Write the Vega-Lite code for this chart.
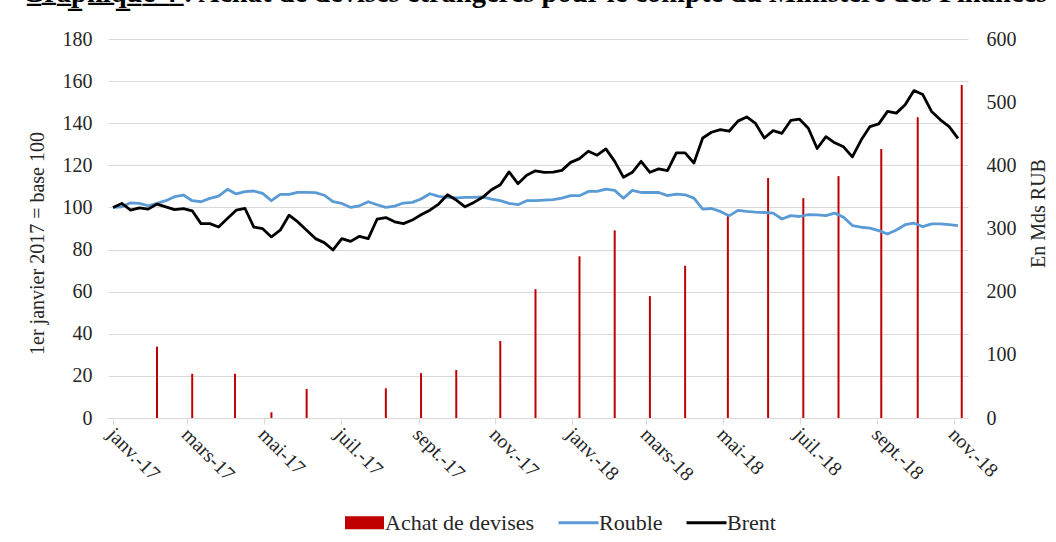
{
  "$schema": "https://vega.github.io/schema/vega-lite/v6.json",
  "width": 860,
  "height": 379,
  "autosize": {"type": "none"},
  "padding": {"left": 108, "top": 39, "right": 88, "bottom": 124},
  "background": "white",
  "config": {
    "font": "Liberation Serif",
    "view": {"stroke": null},
    "axis": {"labelFont": "Liberation Serif", "titleFont": "Liberation Serif", "labelFontSize": 20, "titleFontSize": 20, "labelColor": "#262626", "titleColor": "#262626", "titleFontWeight": "normal"}
  },
  "title": {
    "text": "G\u0332r\u0332a\u0332p\u0332h\u0332i\u0332q\u0332u\u0332e\u0332 \u03324\u0332 : Achat de devises étrangères pour le compte du Ministère des Finances",
    "font": "Liberation Serif", "fontSize": 28.5, "fontWeight": "bold", "color": "#000000",
    "anchor": "start", "frame": "group", "dx": -86, "offset": 22
  },
  "datasets": {
    "bars": [
      {"d": "2017-02-05", "serie": "Achat de devises", "value": 113},
      {"d": "2017-03-05", "serie": "Achat de devises", "value": 70},
      {"d": "2017-04-08", "serie": "Achat de devises", "value": 70},
      {"d": "2017-05-07", "serie": "Achat de devises", "value": 9},
      {"d": "2017-06-04", "serie": "Achat de devises", "value": 46},
      {"d": "2017-08-06", "serie": "Achat de devises", "value": 47},
      {"d": "2017-09-03", "serie": "Achat de devises", "value": 71},
      {"d": "2017-10-01", "serie": "Achat de devises", "value": 76},
      {"d": "2017-11-05", "serie": "Achat de devises", "value": 122},
      {"d": "2017-12-03", "serie": "Achat de devises", "value": 204},
      {"d": "2018-01-07", "serie": "Achat de devises", "value": 256},
      {"d": "2018-02-04", "serie": "Achat de devises", "value": 297},
      {"d": "2018-03-04", "serie": "Achat de devises", "value": 193},
      {"d": "2018-04-01", "serie": "Achat de devises", "value": 241},
      {"d": "2018-05-05", "serie": "Achat de devises", "value": 322},
      {"d": "2018-06-06", "serie": "Achat de devises", "value": 380},
      {"d": "2018-07-04", "serie": "Achat de devises", "value": 348},
      {"d": "2018-08-01", "serie": "Achat de devises", "value": 383},
      {"d": "2018-09-04", "serie": "Achat de devises", "value": 426},
      {"d": "2018-10-03", "serie": "Achat de devises", "value": 476},
      {"d": "2018-11-07", "serie": "Achat de devises", "value": 527}
    ],
    "lines": [
      {"d": "2017-01-01", "Rouble": 100.0, "Brent": 100.0},
      {"d": "2017-01-08", "Rouble": 100.3, "Brent": 101.9},
      {"d": "2017-01-15", "Rouble": 102.2, "Brent": 98.7},
      {"d": "2017-01-22", "Rouble": 101.9, "Brent": 99.8},
      {"d": "2017-01-29", "Rouble": 100.8, "Brent": 99.2},
      {"d": "2017-02-05", "Rouble": 101.9, "Brent": 101.6},
      {"d": "2017-02-12", "Rouble": 103.2, "Brent": 100.3},
      {"d": "2017-02-19", "Rouble": 105.1, "Brent": 99.0},
      {"d": "2017-02-26", "Rouble": 105.9, "Brent": 99.4},
      {"d": "2017-03-05", "Rouble": 103.2, "Brent": 98.4},
      {"d": "2017-03-12", "Rouble": 102.7, "Brent": 92.3},
      {"d": "2017-03-19", "Rouble": 104.3, "Brent": 92.3},
      {"d": "2017-03-26", "Rouble": 105.4, "Brent": 90.7},
      {"d": "2017-04-02", "Rouble": 108.6, "Brent": 94.7},
      {"d": "2017-04-09", "Rouble": 106.4, "Brent": 98.7},
      {"d": "2017-04-16", "Rouble": 107.5, "Brent": 99.5},
      {"d": "2017-04-23", "Rouble": 107.8, "Brent": 90.7},
      {"d": "2017-04-30", "Rouble": 106.7, "Brent": 89.9},
      {"d": "2017-05-07", "Rouble": 103.2, "Brent": 86.0},
      {"d": "2017-05-14", "Rouble": 106.2, "Brent": 89.2},
      {"d": "2017-05-21", "Rouble": 106.2, "Brent": 96.3},
      {"d": "2017-05-28", "Rouble": 107.2, "Brent": 93.1},
      {"d": "2017-06-04", "Rouble": 107.2, "Brent": 89.2},
      {"d": "2017-06-11", "Rouble": 107.0, "Brent": 85.2},
      {"d": "2017-06-18", "Rouble": 105.8, "Brent": 83.3},
      {"d": "2017-06-25", "Rouble": 102.8, "Brent": 79.8},
      {"d": "2017-07-02", "Rouble": 101.9, "Brent": 85.2},
      {"d": "2017-07-09", "Rouble": 100.0, "Brent": 83.9},
      {"d": "2017-07-16", "Rouble": 100.8, "Brent": 86.3},
      {"d": "2017-07-23", "Rouble": 102.7, "Brent": 85.2},
      {"d": "2017-07-30", "Rouble": 101.3, "Brent": 94.4},
      {"d": "2017-08-06", "Rouble": 100.0, "Brent": 95.2},
      {"d": "2017-08-13", "Rouble": 100.6, "Brent": 93.2},
      {"d": "2017-08-20", "Rouble": 102.1, "Brent": 92.3},
      {"d": "2017-08-27", "Rouble": 102.4, "Brent": 94.0},
      {"d": "2017-09-03", "Rouble": 104.0, "Brent": 96.5},
      {"d": "2017-09-10", "Rouble": 106.5, "Brent": 98.7},
      {"d": "2017-09-17", "Rouble": 105.3, "Brent": 101.6},
      {"d": "2017-09-24", "Rouble": 104.8, "Brent": 106.0},
      {"d": "2017-10-01", "Rouble": 104.5, "Brent": 103.5},
      {"d": "2017-10-08", "Rouble": 104.8, "Brent": 100.3},
      {"d": "2017-10-15", "Rouble": 104.8, "Brent": 102.4},
      {"d": "2017-10-22", "Rouble": 105.0, "Brent": 104.8},
      {"d": "2017-10-29", "Rouble": 104.0, "Brent": 108.4},
      {"d": "2017-11-05", "Rouble": 103.2, "Brent": 110.8},
      {"d": "2017-11-12", "Rouble": 101.9, "Brent": 116.9},
      {"d": "2017-11-19", "Rouble": 101.3, "Brent": 111.3},
      {"d": "2017-11-26", "Rouble": 103.2, "Brent": 115.3},
      {"d": "2017-12-03", "Rouble": 103.2, "Brent": 117.4},
      {"d": "2017-12-10", "Rouble": 103.5, "Brent": 116.7},
      {"d": "2017-12-17", "Rouble": 103.7, "Brent": 116.8},
      {"d": "2017-12-24", "Rouble": 104.4, "Brent": 117.6},
      {"d": "2017-12-31", "Rouble": 105.6, "Brent": 121.4},
      {"d": "2018-01-07", "Rouble": 105.6, "Brent": 123.2},
      {"d": "2018-01-14", "Rouble": 107.6, "Brent": 126.7},
      {"d": "2018-01-21", "Rouble": 107.6, "Brent": 124.8},
      {"d": "2018-01-28", "Rouble": 108.7, "Brent": 127.8},
      {"d": "2018-02-04", "Rouble": 108.1, "Brent": 121.9},
      {"d": "2018-02-11", "Rouble": 104.4, "Brent": 114.3},
      {"d": "2018-02-18", "Rouble": 108.1, "Brent": 116.7},
      {"d": "2018-02-25", "Rouble": 107.1, "Brent": 121.9},
      {"d": "2018-03-04", "Rouble": 107.1, "Brent": 116.7},
      {"d": "2018-03-11", "Rouble": 107.1, "Brent": 118.3},
      {"d": "2018-03-18", "Rouble": 105.6, "Brent": 117.5},
      {"d": "2018-03-25", "Rouble": 106.3, "Brent": 125.9},
      {"d": "2018-04-01", "Rouble": 106.0, "Brent": 125.9},
      {"d": "2018-04-08", "Rouble": 104.4, "Brent": 121.1},
      {"d": "2018-04-15", "Rouble": 99.2, "Brent": 133.0},
      {"d": "2018-04-22", "Rouble": 99.5, "Brent": 135.7},
      {"d": "2018-04-29", "Rouble": 98.1, "Brent": 137.0},
      {"d": "2018-05-06", "Rouble": 96.0, "Brent": 136.2},
      {"d": "2018-05-13", "Rouble": 98.6, "Brent": 141.0},
      {"d": "2018-05-20", "Rouble": 98.1, "Brent": 143.0},
      {"d": "2018-05-27", "Rouble": 97.8, "Brent": 139.9},
      {"d": "2018-06-03", "Rouble": 97.6, "Brent": 133.0},
      {"d": "2018-06-10", "Rouble": 97.3, "Brent": 136.5},
      {"d": "2018-06-17", "Rouble": 94.5, "Brent": 135.2},
      {"d": "2018-06-24", "Rouble": 96.1, "Brent": 141.3},
      {"d": "2018-07-01", "Rouble": 95.7, "Brent": 141.9},
      {"d": "2018-07-08", "Rouble": 96.6, "Brent": 137.6},
      {"d": "2018-07-15", "Rouble": 96.5, "Brent": 128.0},
      {"d": "2018-07-22", "Rouble": 96.1, "Brent": 133.6},
      {"d": "2018-07-29", "Rouble": 97.3, "Brent": 130.7},
      {"d": "2018-08-05", "Rouble": 95.3, "Brent": 128.8},
      {"d": "2018-08-12", "Rouble": 91.4, "Brent": 124.0},
      {"d": "2018-08-19", "Rouble": 90.6, "Brent": 132.0},
      {"d": "2018-08-26", "Rouble": 90.2, "Brent": 138.4},
      {"d": "2018-09-02", "Rouble": 89.0, "Brent": 139.7},
      {"d": "2018-09-09", "Rouble": 87.4, "Brent": 145.6},
      {"d": "2018-09-16", "Rouble": 89.3, "Brent": 144.8},
      {"d": "2018-09-23", "Rouble": 91.8, "Brent": 148.8},
      {"d": "2018-09-30", "Rouble": 92.5, "Brent": 155.5},
      {"d": "2018-10-07", "Rouble": 90.9, "Brent": 153.6},
      {"d": "2018-10-14", "Rouble": 92.2, "Brent": 145.6},
      {"d": "2018-10-21", "Rouble": 92.2, "Brent": 141.6},
      {"d": "2018-10-28", "Rouble": 91.8, "Brent": 138.4},
      {"d": "2018-11-04", "Rouble": 91.4, "Brent": 132.8}
    ]
  },
  "layer": [
    {
      "data": {"name": "bars"},
      "mark": {"type": "bar", "width": 2},
      "encoding": {
        "x": {
          "field": "d", "type": "temporal",
          "scale": {"type": "utc", "domain": [{"year": 2017, "month": 1, "date": 1, "utc": true}, {"year": 2018, "month": 11, "date": 8, "utc": true}]},
          "axis": {
            "title": null, "grid": false,
            "values": [
              {"year": 2017, "month": 1, "date": 1, "utc": true},
              {"year": 2017, "month": 3, "date": 1, "utc": true},
              {"year": 2017, "month": 5, "date": 1, "utc": true},
              {"year": 2017, "month": 7, "date": 1, "utc": true},
              {"year": 2017, "month": 9, "date": 1, "utc": true},
              {"year": 2017, "month": 11, "date": 1, "utc": true},
              {"year": 2018, "month": 1, "date": 1, "utc": true},
              {"year": 2018, "month": 3, "date": 1, "utc": true},
              {"year": 2018, "month": 5, "date": 1, "utc": true},
              {"year": 2018, "month": 7, "date": 1, "utc": true},
              {"year": 2018, "month": 9, "date": 1, "utc": true},
              {"year": 2018, "month": 11, "date": 1, "utc": true}
            ],
            "labelExpr": "['janv.','févr.','mars','avr.','mai','juin','juil.','août','sept.','oct.','nov.','déc.'][utcmonth(datum.value)] + '-' + utcFormat(datum.value, '%y')",
            "labelAngle": 45, "labelAlign": "left", "labelBaseline": "middle", "labelPadding": 7, "labelOffset": -3,
            "labelOverlap": false, "labelFlush": false,
            "tickColor": "#d9d9d9", "tickSize": 6, "domainColor": "#d9d9d9"
          }
        },
        "y": {
          "field": "value", "type": "quantitative",
          "scale": {"domain": [0, 600]},
          "axis": {"orient": "right", "title": "En Mds RUB", "values": [0, 100, 200, 300, 400, 500, 600], "grid": false, "ticks": false, "domain": false, "labelPadding": 18, "titlePadding": 32, "titleAngle": 270, "titleY": 174}
        },
        "color": {
          "field": "serie", "type": "nominal",
          "scale": {"domain": ["Achat de devises", "Rouble", "Brent"], "range": ["#C00000", "#5B9BD5", "#000000"]},
          "legend": {
            "orient": "none", "legendX": 235, "legendY": 462, "direction": "horizontal", "title": null,
            "symbolSize": 1600, "symbolStrokeWidth": 3, "labelFontSize": 22, "labelFont": "Liberation Serif", "labelColor": "#262626",
            "labelOffset": -1, "columnPadding": 17,
            "encode": {
              "symbols": {
                "update": {
                  "shape": {"signal": "datum.value === 'Achat de devises' ? 'M-0.9,-0.25H0.9V0.25H-0.9Z' : 'M-1,0H1'"},
                  "fill": {"signal": "datum.value === 'Achat de devises' ? '#C00000' : 'transparent'"},
                  "stroke": {"signal": "datum.value === 'Achat de devises' ? 'transparent' : (datum.value === 'Rouble' ? '#5B9BD5' : '#000000')"},
                  "strokeWidth": {"value": 3},
                  "opacity": {"value": 1}
                }
              }
            }
          }
        }
      }
    },
    {
      "data": {"name": "lines"},
      "transform": [{"fold": ["Rouble", "Brent"], "as": ["serie", "value"]}],
      "mark": {"type": "line", "strokeWidth": 2.8, "strokeJoin": "round"},
      "encoding": {
        "x": {"field": "d", "type": "temporal"},
        "y": {
          "field": "value", "type": "quantitative",
          "scale": {"domain": [0, 180]},
          "axis": {"orient": "left", "title": "1er janvier 2017 = base 100", "values": [0, 20, 40, 60, 80, 100, 120, 140, 160, 180], "grid": true, "gridColor": "#d9d9d9", "ticks": false, "domain": false, "labelPadding": 16, "titlePadding": 15, "titleY": 204}
        },
        "color": {"field": "serie", "type": "nominal"}
      }
    }
  ],
  "resolve": {"scale": {"y": "independent"}}
}
